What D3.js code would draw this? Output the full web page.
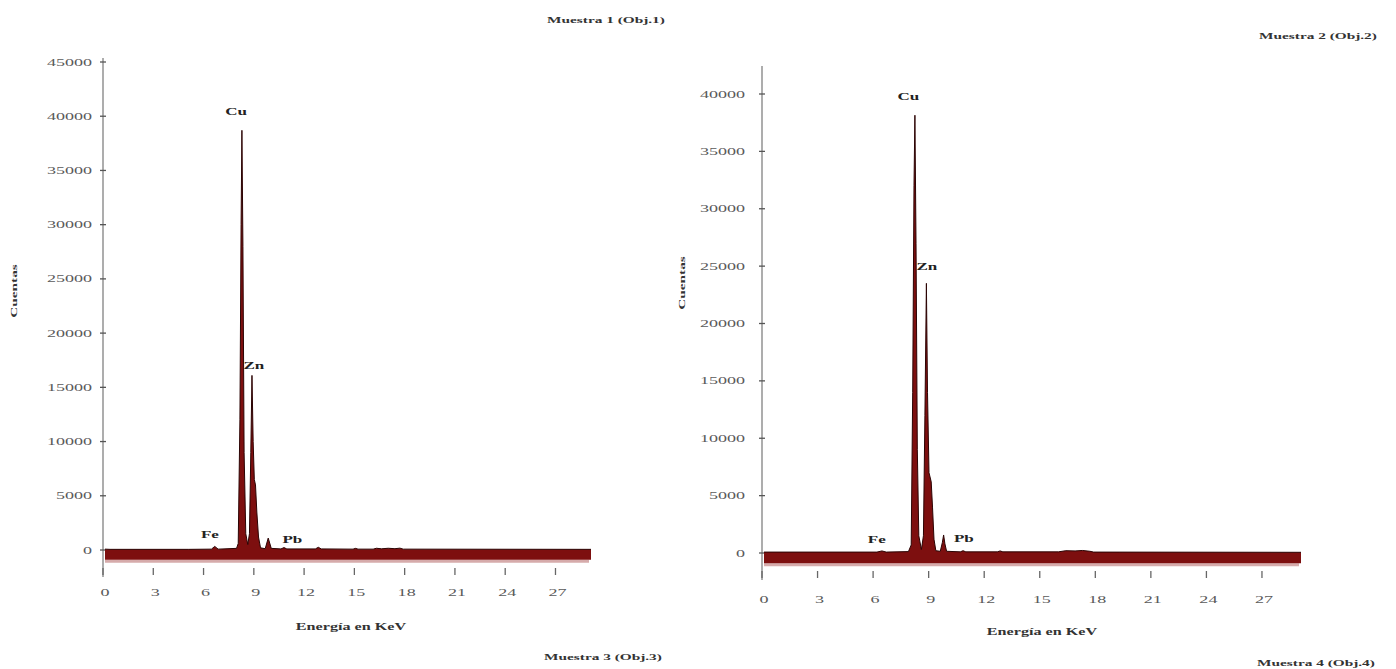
<!DOCTYPE html>
<html>
<head>
<meta charset="utf-8">
<script src="https://cdn.jsdelivr.net/npm/d3@7"></script>
<style>
  html, body { margin: 0; padding: 0; background: #ffffff; }
  svg { display: block; }
</style>
</head>
<body>
<svg id="chart" width="1396" height="669"></svg>
<script>
// ---------------- DATA ----------------
const energyTicks = [0, 3, 6, 9, 12, 15, 18, 21, 24, 27];
const countTicks1 = [0, 5000, 10000, 15000, 20000, 25000, 30000, 35000, 40000, 45000];
const countTicks2 = [0, 5000, 10000, 15000, 20000, 25000, 30000, 35000, 40000];

// Spectrum, Muestra 1 (Obj.1): energy (keV) and counts
const spec1Energy = [0, 0.3, 5.0, 6.35, 6.55, 6.75, 7.85, 7.95, 8.05, 8.12, 8.17, 8.23, 8.30, 8.40, 8.52, 8.62, 8.70, 8.77, 8.84, 8.91, 8.98, 9.06, 9.16, 9.28, 9.56, 9.74, 9.92, 10.5, 10.68, 10.85, 12.55, 12.73, 12.9, 14.8, 14.95, 15.1, 16.0, 16.2, 16.5, 16.9, 17.3, 17.6, 17.8, 29];
const spec1Counts = [80, 60, 60, 80, 330, 80, 150, 600, 12000, 30000, 38700, 28000, 9000, 1500, 500, 1500, 9000, 16100, 10000, 6500, 6000, 3500, 1200, 200, 120, 1100, 150, 100, 220, 100, 100, 250, 100, 80, 150, 80, 80, 160, 110, 160, 120, 170, 80, 60];

// Spectrum, Muestra 2 (Obj.2)
const spec2Energy = [0, 6.1, 6.37, 6.6, 7.8, 7.95, 8.03, 8.10, 8.15, 8.21, 8.28, 8.36, 8.50, 8.61, 8.69, 8.77, 8.83, 8.91, 9.03, 9.10, 9.18, 9.28, 9.52, 9.63, 9.70, 9.77, 9.86, 10.6, 10.75, 10.9, 12.6, 12.75, 12.9, 15.9, 16.3, 16.8, 17.2, 17.6, 17.8, 29];
const spec2Counts = [80, 80, 180, 80, 120, 700, 14000, 32000, 38150, 27000, 9000, 1500, 300, 1500, 12000, 23500, 14000, 7000, 6200, 4000, 1200, 200, 150, 900, 1570, 800, 150, 100, 200, 100, 100, 180, 100, 100, 200, 180, 220, 150, 80, 60];

const peakNames = ["Cu", "Zn", "Fe", "Pb"];
const peakLabelEnergy1 = [7.94, 9.0, 6.38, 11.3];
const peakLabelCounts1 = [40300, 16900, 1300, 900];
const peakLabelEnergy2 = [7.9, 8.9, 6.2, 10.9];
const peakLabelCounts2 = [39700, 24900, 1050, 1130];

const panelTitles = ["Muestra 1 (Obj.1)", "Muestra 2 (Obj.2)", "Muestra 3 (Obj.3)", "Muestra 4 (Obj.4)"];
const yAxisTitle = "Cuentas";
const xAxisTitle = "Energía en KeV";
const energyDomain = [0, 29];
const bandFloor = -900;

// ---------------- DRAW ----------------
const svg = d3.select("#chart");
const FONT = "'Liberation Serif', 'DejaVu Serif', serif";

// horizontally widen text (the reference image is stretched sideways)
function stretch(sel, k) {
  sel.each(function () {
    const w = this.getComputedTextLength();
    d3.select(this).attr("textLength", w * k).attr("lengthAdjust", "spacingAndGlyphs");
  });
}

function drawPanel(cfg) {
  const g = svg.append("g");
  const x = d3.scaleLinear().domain(energyDomain).range(cfg.xRange);
  const y = d3.scaleLinear().domain([0, cfg.yMax]).range(cfg.yRange);

  // y axis line
  g.append("line")
    .attr("x1", x(0)).attr("x2", x(0))
    .attr("y1", cfg.axisTop).attr("y2", cfg.axisBottom)
    .attr("stroke", "#8a8a8a").attr("stroke-width", 1.4);

  // y axis ticks & labels
  const yAxis = d3.axisLeft(y).tickValues(cfg.yTicks).tickSize(0).tickPadding(cfg.yPad).tickFormat(d3.format("d"));
  const ya = g.append("g").attr("transform", `translate(${x(0)},0)`).call(yAxis);
  ya.select(".domain").remove();
  ya.selectAll("text").attr("font-family", FONT).attr("font-size", 9.5).attr("fill", "#5a5a5a")
    .call(stretch, 1.9);
  g.selectAll(".ytk").data(cfg.yTicks).enter().append("line")
    .attr("x1", x(0) - 3).attr("x2", x(0) + 3)
    .attr("y1", d => y(d)).attr("y2", d => y(d))
    .attr("stroke", "#555").attr("stroke-width", 1.3);

  // spectrum area
  const pts = cfg.energy.map((e, i) => [e, cfg.counts[i]]);
  const area = d3.area().x(d => x(d[0])).y0(y(bandFloor)).y1(d => y(d[1]));
  const line = d3.line().x(d => x(d[0])).y(d => y(d[1]));
  g.append("line")
    .attr("x1", x(energyDomain[0]) + 2).attr("x2", x(energyDomain[1]))
    .attr("y1", y(bandFloor) + 1.5).attr("y2", y(bandFloor) + 1.5)
    .attr("stroke", "#d6abab").attr("stroke-width", 3);
  g.append("path").datum(pts).attr("d", area).attr("fill", "#7d0f0f")
    .attr("transform", "translate(2,0)");
  g.append("path").datum(pts).attr("d", line).attr("fill", "none")
    .attr("stroke", "#2b0404").attr("stroke-width", 1)
    .attr("transform", "translate(2,0)");

  // x ticks and labels
  const tickTop = cfg.xTickY;
  g.selectAll(".xtk").data(energyTicks).enter().append("line")
    .attr("x1", d => x(d)).attr("x2", d => x(d))
    .attr("y1", tickTop).attr("y2", tickTop + 7)
    .attr("stroke", "#666").attr("stroke-width", 1.3);
  g.selectAll(".xtl").data(energyTicks).enter().append("text")
    .attr("x", d => x(d) + 2).attr("y", cfg.xLabelY)
    .attr("text-anchor", "middle").attr("dominant-baseline", "middle")
    .attr("font-family", FONT).attr("font-size", 9.5).attr("fill", "#5a5a5a")
    .text(d => d)
    .call(stretch, 1.9);

  // peak labels
  g.selectAll(".pk").data(peakNames).enter().append("text")
    .attr("x", (d, i) => x(cfg.labelE[i])).attr("y", (d, i) => y(cfg.labelC[i]))
    .attr("text-anchor", "middle").attr("dominant-baseline", "middle")
    .attr("font-family", FONT).attr("font-size", 10).attr("font-weight", "bold").attr("fill", "#222")
    .text(d => d)
    .call(stretch, 1.7);

  // axis titles
  g.append("text")
    .attr("transform", `translate(${cfg.yTitlePos[0]},${cfg.yTitlePos[1]}) rotate(-90)`)
    .attr("text-anchor", "middle").attr("dominant-baseline", "middle")
    .attr("font-family", FONT).attr("font-size", 8.5).attr("font-weight", "bold").attr("fill", "#333")
    .text(yAxisTitle)
    .call(stretch, 1.8);
  g.append("text")
    .attr("x", cfg.xTitlePos[0]).attr("y", cfg.xTitlePos[1])
    .attr("text-anchor", "middle").attr("dominant-baseline", "middle")
    .attr("font-family", FONT).attr("font-size", 9.5).attr("font-weight", "bold").attr("fill", "#333")
    .text(xAxisTitle)
    .call(stretch, 1.7);
}

drawPanel({
  xRange: [103, 589], yRange: [550, 62], yMax: 45000, yTicks: countTicks1, yPad: 11,
  axisTop: 58, axisBottom: 577, xTickY: 568, xLabelY: 594,
  energy: spec1Energy, counts: spec1Counts,
  labelE: peakLabelEnergy1, labelC: peakLabelCounts1,
  yTitlePos: [15, 291], xTitlePos: [351, 628]
});
drawPanel({
  xRange: [762, 1299], yRange: [553, 94], yMax: 40000, yTicks: countTicks2, yPad: 17,
  axisTop: 66, axisBottom: 580, xTickY: 571, xLabelY: 601,
  energy: spec2Energy, counts: spec2Counts,
  labelE: peakLabelEnergy2, labelC: peakLabelCounts2,
  yTitlePos: [683, 283], xTitlePos: [1042, 633]
});

// panel titles
const titlePos = [[606, 21], [1318, 37], [603, 658], [1316, 664]];
svg.selectAll(".ttl").data(panelTitles).enter().append("text")
  .attr("x", (d, i) => titlePos[i][0]).attr("y", (d, i) => titlePos[i][1])
  .attr("text-anchor", "middle").attr("dominant-baseline", "middle")
  .attr("font-family", FONT).attr("font-size", 9).attr("font-weight", "bold").attr("fill", "#333")
  .text(d => d)
  .call(stretch, 1.7);
</script>
</body>
</html>
